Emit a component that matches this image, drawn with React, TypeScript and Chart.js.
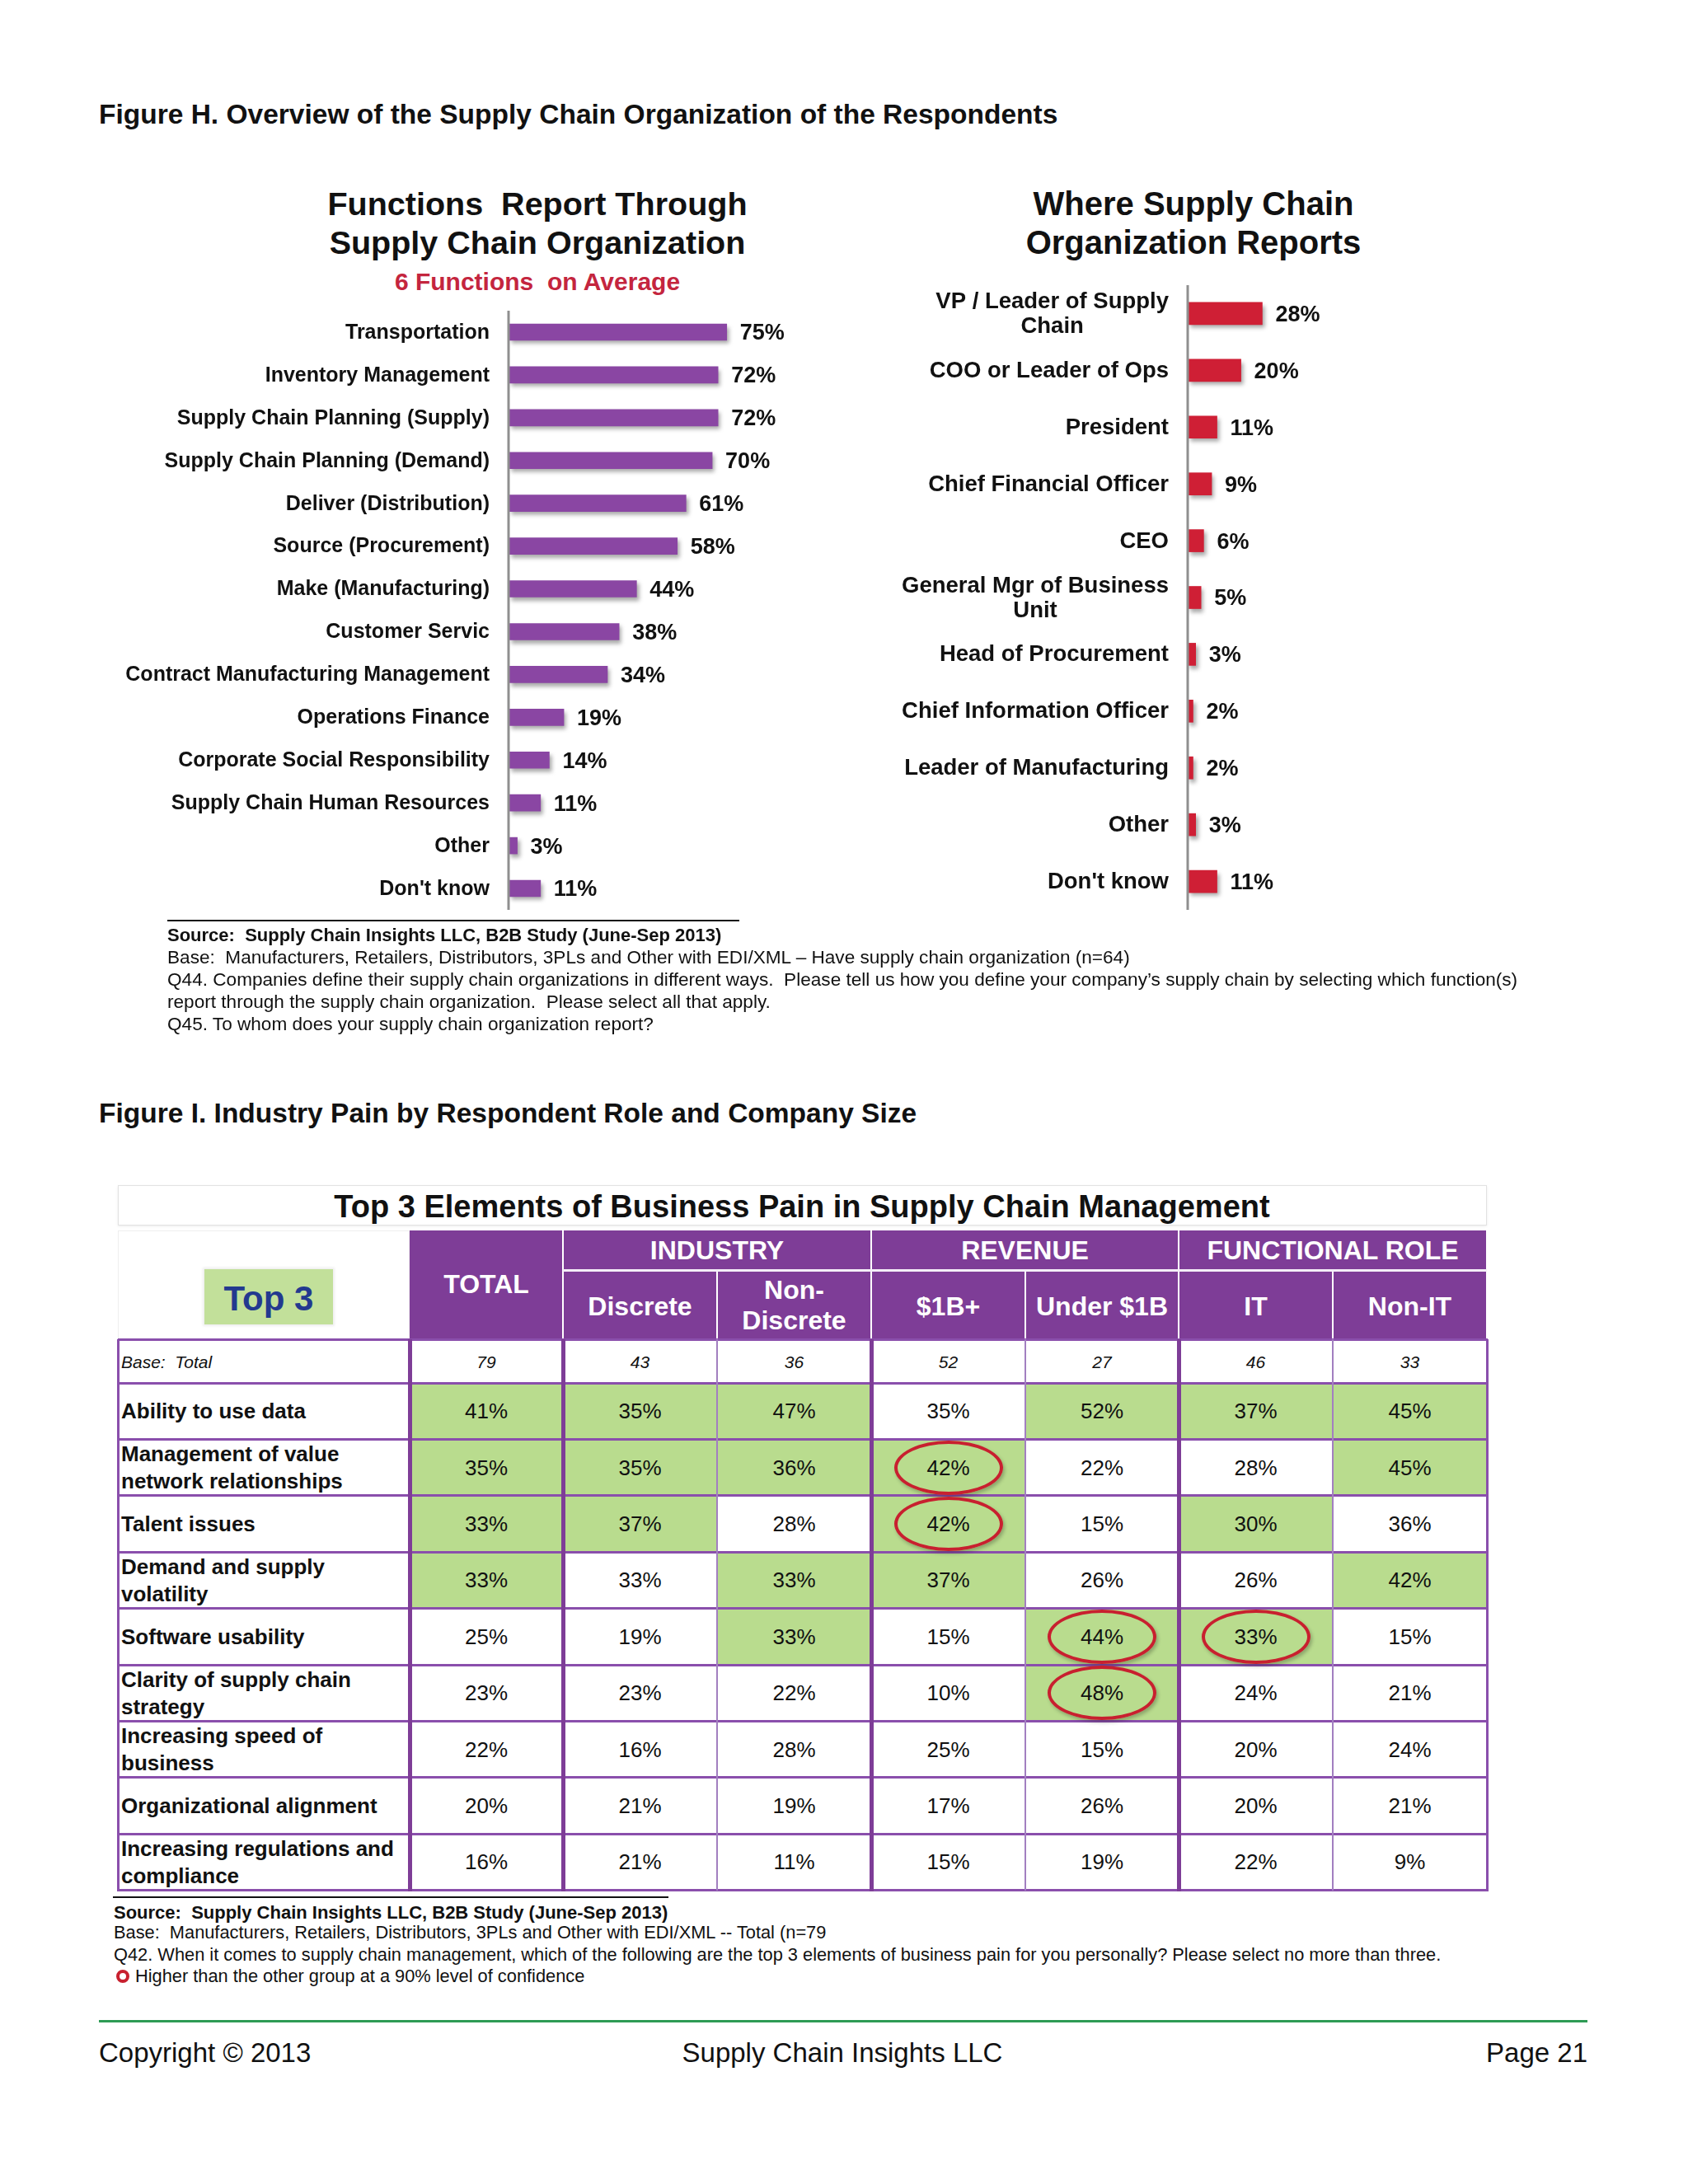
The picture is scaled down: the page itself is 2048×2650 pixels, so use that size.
import React, { useEffect, useRef } from "react";
import { Chart, registerables } from "chart.js";
Chart.register(...registerables);

const FONT = '"Liberation Sans", Arial, Helvetica, sans-serif';

// ---------- Figure H data ----------
const functionLabels = [
  "Transportation",
  "Inventory Management",
  "Supply Chain Planning (Supply)",
  "Supply Chain Planning (Demand)",
  "Deliver (Distribution)",
  "Source (Procurement)",
  "Make (Manufacturing)",
  "Customer Servic",
  "Contract Manufacturing Management",
  "Operations Finance",
  "Corporate Social Responsibility",
  "Supply Chain Human Resources",
  "Other",
  "Don't know",
];
const functionValues = [75, 72, 72, 70, 61, 58, 44, 38, 34, 19, 14, 11, 3, 11];

const reportLabels: (string | string[])[] = [
  ["VP / Leader of Supply", "Chain"],
  "COO or Leader of Ops",
  "President",
  "Chief Financial Officer",
  "CEO",
  ["General Mgr of Business", "Unit"],
  "Head of Procurement",
  "Chief Information Officer",
  "Leader of Manufacturing",
  "Other",
  "Don't know",
];
const reportValues = [28, 20, 11, 9, 6, 5, 3, 2, 2, 3, 11];

// ---------- Figure I data ----------
const groupHeaders = ["INDUSTRY", "REVENUE", "FUNCTIONAL ROLE"];
const columnHeaders: string[][] = [["Discrete"], ["Non-", "Discrete"], ["$1B+"], ["Under $1B"], ["IT"], ["Non-IT"]];
const baseCounts = [79, 43, 36, 52, 27, 46, 33];
const painLabels: string[][] = [
  ["Ability to use data"],
  ["Management of value", "network relationships"],
  ["Talent issues"],
  ["Demand and supply", "volatility"],
  ["Software usability"],
  ["Clarity of supply chain", "strategy"],
  ["Increasing speed of", "business"],
  ["Organizational alignment"],
  ["Increasing regulations and", "compliance"],
];
const abilityToUseData = [41, 35, 47, 35, 52, 37, 45];
const valueNetwork = [35, 35, 36, 42, 22, 28, 45];
const talentIssues = [33, 37, 28, 42, 15, 30, 36];
const demandSupplyVolatility = [33, 33, 33, 37, 26, 26, 42];
const softwareUsability = [25, 19, 33, 15, 44, 33, 15];
const clarityOfStrategy = [23, 23, 22, 10, 48, 24, 21];
const speedOfBusiness = [22, 16, 28, 25, 15, 20, 24];
const organizationalAlignment = [20, 21, 19, 17, 26, 20, 21];
const regulationsCompliance = [16, 21, 11, 15, 19, 22, 9];
const painValues = [
  abilityToUseData,
  valueNetwork,
  talentIssues,
  demandSupplyVolatility,
  softwareUsability,
  clarityOfStrategy,
  speedOfBusiness,
  organizationalAlignment,
  regulationsCompliance,
];
// top-3 highlighted cells [row, column]
const top3Cells: [number, number][] = [
  [0, 0], [0, 1], [0, 2], [0, 4], [0, 5], [0, 6],
  [1, 0], [1, 1], [1, 2], [1, 3], [1, 6],
  [2, 0], [2, 1], [2, 3], [2, 5],
  [3, 0], [3, 2], [3, 3], [3, 6],
  [4, 2], [4, 4], [4, 5],
  [5, 4],
];
// significantly higher cells [row, column]
const significantCells: [number, number][] = [[1, 3], [2, 3], [4, 4], [4, 5], [5, 4]];

// ---------- helpers ----------
type TProps = {
  x: number;
  y: number;
  size: number;
  bold?: boolean;
  italic?: boolean;
  align?: "left" | "center" | "right";
  color?: string;
  children: React.ReactNode;
  spacing?: number;
};
function T({ x, y, size, bold, italic, align = "left", color = "#111", children, spacing }: TProps) {
  const lh = Math.round(size * 1.3);
  const style: React.CSSProperties = {
    position: "absolute",
    top: y - lh / 2,
    height: lh,
    lineHeight: lh + "px",
    fontSize: size,
    fontWeight: bold ? 700 : 400,
    fontStyle: italic ? "italic" : "normal",
    color,
    whiteSpace: "nowrap",
    letterSpacing: spacing ? spacing + "px" : undefined,
  };
  if (align === "left") {
    style.left = x;
  } else if (align === "center") {
    style.left = x - 1000;
    style.width = 2000;
    style.textAlign = "center";
  } else {
    style.left = x - 2000;
    style.width = 2000;
    style.textAlign = "right";
  }
  return <div style={style}>{children}</div>;
}

type BarProps = {
  labels: (string | string[])[];
  values: number[];
  color: string;
  left: number;
  top: number;
  width: number;
  height: number;
  pad: { left: number; right: number; top: number; bottom: number };
  barThickness: number;
  labelFont: string;
  valueFont: string;
  lineHeight: number;
};

function HBar(p: BarProps) {
  const ref = useRef<HTMLCanvasElement>(null);
  useEffect(() => {
    if (!ref.current) return;
    const shadowPlugin = {
      id: "barShadow",
      beforeDatasetsDraw(chart: any) {
        const ctx = chart.ctx;
        ctx.save();
        ctx.shadowColor = "rgba(0,0,0,0.35)";
        ctx.shadowBlur = 5;
        ctx.shadowOffsetX = 3;
        ctx.shadowOffsetY = 4;
      },
      afterDatasetsDraw(chart: any) {
        chart.ctx.restore();
      },
    };
    const labelPlugin = {
      id: "barLabels",
      afterDraw(chart: any) {
        const ctx = chart.ctx;
        const area = chart.chartArea;
        const ys = chart.scales.y;
        const xs = chart.scales.x;
        ctx.save();
        ctx.strokeStyle = "#8f8f8f";
        ctx.lineWidth = 3;
        ctx.beginPath();
        ctx.moveTo(area.left, area.top);
        ctx.lineTo(area.left, area.bottom);
        ctx.stroke();
        ctx.fillStyle = "#111";
        ctx.textBaseline = "middle";
        p.labels.forEach((lab, i) => {
          const y = ys.getPixelForValue(i);
          const lines = Array.isArray(lab) ? lab : [lab];
          ctx.font = p.labelFont;
          const maxW = Math.max(...lines.map((l) => ctx.measureText(l).width));
          const rightX = area.left - 23;
          ctx.textAlign = "center";
          lines.forEach((l, j) => {
            const yy = y + (j - (lines.length - 1) / 2) * p.lineHeight;
            ctx.fillText(l, rightX - maxW / 2, yy + 1);
          });
          const xv = xs.getPixelForValue(p.values[i]);
          ctx.font = p.valueFont;
          ctx.textAlign = "left";
          ctx.fillText(p.values[i] + "%", xv + 16, y + 2);
        });
        ctx.restore();
      },
    };
    const chart = new Chart(ref.current, {
      type: "bar",
      data: {
        labels: p.labels.map((l) => (Array.isArray(l) ? l.join(" ") : l)),
        datasets: [
          {
            data: p.values,
            backgroundColor: p.color,
            borderWidth: 0,
            barThickness: p.barThickness,
          },
        ],
      },
      options: {
        indexAxis: "y",
        animation: false,
        responsive: false,
        maintainAspectRatio: false,
        devicePixelRatio: 1,
        layout: { padding: p.pad },
        plugins: {
          legend: { display: false },
          tooltip: { enabled: false },
          title: { display: false },
        },
        scales: {
          x: { display: false, min: 0, max: 100 },
          y: { display: false },
        },
      },
      plugins: [shadowPlugin, labelPlugin],
    } as any);
    return () => chart.destroy();
  }, []);
  return (
    <canvas
      ref={ref}
      width={p.width}
      height={p.height}
      style={{ position: "absolute", left: p.left, top: p.top, width: p.width, height: p.height }}
    />
  );
}

// ---------- table geometry ----------
const colEdges = [143, 497, 683, 870, 1057, 1244, 1430, 1617, 1804];
const bodyTop = 1678;
const rowH = 68.4;
const HEADER_PURPLE = "#7e3d97";
const LINE_PURPLE = "#8a4fac";
const GREEN = "#b9dc8e";
const RED = "#c8202f";

function PainTable() {
  const els: React.ReactNode[] = [];
  const isTop = (r: number, c: number) => top3Cells.some(([a, b]) => a === r && b === c);
  const isSig = (r: number, c: number) => significantCells.some(([a, b]) => a === r && b === c);

  // title box
  els.push(
    <div
      key="titlebox"
      style={{
        position: "absolute",
        left: 143,
        top: 1438,
        width: 1661,
        height: 49,
        border: "1px solid #e2e2e2",
        boxSizing: "border-box",
        background: "#fff",
        boxShadow: "0 1px 3px rgba(0,0,0,0.08)",
      }}
    />
  );
  els.push(
    <T key="title" x={973} y={1464} size={38} bold align="center">
      Top 3 Elements of Business Pain in Supply Chain Management
    </T>
  );
  // header cells
  els.push(
    <div key="tlc" style={{ position: "absolute", left: 143, top: 1493, width: 354, height: 132, border: "1px solid #eee", boxSizing: "border-box" }} />
  );
  els.push(
    <div
      key="top3box"
      style={{
        position: "absolute",
        left: 248,
        top: 1540,
        width: 156,
        height: 67,
        background: "#c2e09a",
        boxShadow: "0 0 3px 2px #eee",
      }}
    />
  );
  els.push(
    <T key="top3" x={326} y={1575} size={42} bold align="center" color="#23398f">
      Top 3
    </T>
  );
  els.push(
    <div key="hTotal" style={{ position: "absolute", left: 497, top: 1493, width: 185, height: 132, background: HEADER_PURPLE }} />
  );
  els.push(
    <T key="tTotal" x={590} y={1558} size={32} bold align="center" color="#fff">
      TOTAL
    </T>
  );
  groupHeaders.forEach((g, gi) => {
    const x0 = colEdges[2 + gi * 2];
    const x1 = colEdges[4 + gi * 2];
    els.push(
      <div
        key={"g" + gi}
        style={{ position: "absolute", left: x0 + 1, top: 1493, width: x1 - x0 - 2, height: 47, background: HEADER_PURPLE }}
      />
    );
    els.push(
      <T key={"gt" + gi} x={(x0 + x1) / 2} y={1517} size={32} bold align="center" color="#fff">
        {g}
      </T>
    );
  });
  columnHeaders.forEach((h, ci) => {
    const x0 = colEdges[2 + ci];
    const x1 = colEdges[3 + ci];
    els.push(
      <div
        key={"sh" + ci}
        style={{ position: "absolute", left: x0 + 1, top: 1543, width: x1 - x0 - 2, height: 82, background: HEADER_PURPLE }}
      />
    );
    h.forEach((line, li) => {
      const y = h.length === 1 ? 1585 : 1565 + li * 37;
      els.push(
        <T key={"sht" + ci + "_" + li} x={(x0 + x1) / 2} y={y} size={32} bold align="center" color="#fff">
          {line}
        </T>
      );
    });
  });

  // base row
  els.push(
    <T key="baseL" x={147} y={1652} size={21} italic>
      Base:&nbsp; Total
    </T>
  );
  baseCounts.forEach((v, ci) => {
    els.push(
      <T key={"base" + ci} x={(colEdges[1 + ci] + colEdges[2 + ci]) / 2} y={1652} size={21} italic align="center">
        {v}
      </T>
    );
  });

  // body rows
  painValues.forEach((row, ri) => {
    const y0 = bodyTop + ri * rowH;
    row.forEach((v, ci) => {
      const x0 = colEdges[1 + ci];
      const x1 = colEdges[2 + ci];
      if (isTop(ri, ci)) {
        els.push(
          <div key={"bg" + ri + "_" + ci} style={{ position: "absolute", left: x0, top: y0, width: x1 - x0, height: rowH, background: GREEN }} />
        );
      }
    });
  });
  // grid lines
  const hLines = [1625, 1678];
  for (let i = 1; i <= painValues.length; i++) hLines.push(bodyTop + i * rowH);
  hLines.forEach((y, i) => {
    els.push(
      <div key={"hl" + i} style={{ position: "absolute", left: 143, top: y - 1.5, width: 1662, height: 3, background: LINE_PURPLE }} />
    );
  });
  const thick = [497, 683, 1057, 1430];
  const thin = [870, 1244, 1617];
  thick.forEach((x, i) => {
    els.push(
      <div key={"tv" + i} style={{ position: "absolute", left: x - 2.5, top: 1625, width: 5, height: 2294 - 1625 + 1, background: HEADER_PURPLE }} />
    );
  });
  thin.forEach((x, i) => {
    els.push(
      <div key={"nv" + i} style={{ position: "absolute", left: x - 1, top: 1625, width: 2, height: 2294 - 1625, background: "#a27fc0" }} />
    );
  });
  [143, 1804].forEach((x, i) => {
    els.push(
      <div key={"ov" + i} style={{ position: "absolute", left: x - 1.5, top: 1625, width: 3, height: 2294 - 1625 + 1, background: LINE_PURPLE }} />
    );
  });
  // header white separators
  els.push(<div key="hs1" style={{ position: "absolute", left: 683, top: 1540, width: 1121, height: 3, background: "#f4eef8" }} />);

  // texts
  painValues.forEach((row, ri) => {
    const y0 = bodyTop + ri * rowH;
    const cy = y0 + rowH / 2;
    const lab = painLabels[ri];
    lab.forEach((l, li) => {
      const ly = lab.length === 1 ? cy : cy - 16.5 + li * 33;
      els.push(
        <T key={"rl" + ri + "_" + li} x={147} y={ly} size={26} bold>
          {l}
        </T>
      );
    });
    row.forEach((v, ci) => {
      const cx = (colEdges[1 + ci] + colEdges[2 + ci]) / 2;
      els.push(
        <T key={"v" + ri + "_" + ci} x={cx} y={cy} size={26} align="center">
          {v}%
        </T>
      );
      if (isSig(ri, ci)) {
        els.push(
          <div
            key={"c" + ri + "_" + ci}
            style={{
              position: "absolute",
              left: cx - 66,
              top: cy - 33,
              width: 132,
              height: 66,
              border: "4px solid " + RED,
              borderRadius: "50%",
              boxSizing: "border-box",
              boxShadow: "2px 3px 4px rgba(0,0,0,0.25)",
            }}
          />
        );
      }
    });
  });
  return <>{els}</>;
}

export default function App() {
  return (
    <div
      style={{
        position: "absolute",
        left: 0,
        top: 0,
        width: 2048,
        height: 2650,
        background: "#fff",
        fontFamily: FONT,
        color: "#111",
        overflow: "hidden",
      }}
    >
      <T x={120} y={139} size={33.5} bold>
        Figure H. Overview of the Supply Chain Organization of the Respondents
      </T>

      {/* left chart titles */}
      <T x={652} y={247} size={39.5} bold align="center">
        Functions&nbsp; Report Through
      </T>
      <T x={652} y={294} size={39.5} bold align="center">
        Supply Chain Organization
      </T>
      <T x={652} y={341} size={30} bold align="center" color="#c4253e">
        6 Functions&nbsp; on Average
      </T>

      {/* right chart titles */}
      <T x={1448} y={247} size={40} bold align="center">
        Where Supply Chain
      </T>
      <T x={1448} y={294} size={40} bold align="center">
        Organization Reports
      </T>

      <HBar
        labels={functionLabels}
        values={functionValues}
        color="#8a46a3"
        left={0}
        top={360}
        width={1040}
        height={760}
        pad={{ left: 617, right: 70, top: 17, bottom: 16 }}
        barThickness={20}
        labelFont={"bold 25px " + FONT}
        valueFont={"bold 27px " + FONT}
        lineHeight={30}
      />
      <HBar
        labels={reportLabels}
        values={reportValues}
        color="#cf1f35"
        left={1040}
        top={330}
        width={1000}
        height={790}
        pad={{ left: 401, right: 276, top: 16, bottom: 16 }}
        barThickness={27}
        labelFont={"bold 27.5px " + FONT}
        valueFont={"bold 27px " + FONT}
        lineHeight={30}
      />

      {/* source block 1 */}
      <div style={{ position: "absolute", left: 203, top: 1116, width: 694, height: 2, background: "#111" }} />
      <T x={203} y={1134} size={22} bold>
        Source:&nbsp; Supply Chain Insights LLC, B2B Study (June-Sep 2013)
      </T>
      <T x={203} y={1161} size={22.6}>
        Base:&nbsp; Manufacturers, Retailers, Distributors, 3PLs and Other with EDI/XML – Have supply chain organization (n=64)
      </T>
      <T x={203} y={1188} size={22.6}>
        Q44. Companies define their supply chain organizations in different ways.&nbsp; Please tell us how you define your company’s supply chain by selecting which function(s)
      </T>
      <T x={203} y={1215} size={22.6}>
        report through the supply chain organization.&nbsp; Please select all that apply.
      </T>
      <T x={203} y={1242} size={22.6}>
        Q45. To whom does your supply chain organization report?
      </T>

      <T x={120} y={1351} size={33.5} bold>
        Figure I. Industry Pain by Respondent Role and Company Size
      </T>

      <PainTable />

      {/* source block 2 */}
      <div style={{ position: "absolute", left: 137, top: 2301, width: 674, height: 2, background: "#111" }} />
      <T x={138} y={2320} size={22} bold>
        Source:&nbsp; Supply Chain Insights LLC, B2B Study (June-Sep 2013)
      </T>
      <T x={138} y={2345} size={21.8}>
        Base:&nbsp; Manufacturers, Retailers, Distributors, 3PLs and Other with EDI/XML -- Total (n=79
      </T>
      <T x={138} y={2372} size={21.8}>
        Q42. When it comes to supply chain management, which of the following are the top 3 elements of business pain for you personally? Please select no more than three.
      </T>
      <div
        style={{
          position: "absolute",
          left: 141,
          top: 2390,
          width: 16,
          height: 16,
          borderRadius: "50%",
          border: "4.5px solid " + RED,
          boxSizing: "border-box",
        }}
      />
      <T x={164} y={2398} size={21.8}>
        Higher than the other group at a 90% level of confidence
      </T>

      {/* footer */}
      <div style={{ position: "absolute", left: 120, top: 2451, width: 1806, height: 3, background: "#2e9b55" }} />
      <T x={120} y={2490} size={33}>
        Copyright © 2013
      </T>
      <T x={1022} y={2490} size={33} align="center">
        Supply Chain Insights LLC
      </T>
      <T x={1926} y={2490} size={33} align="right">
        Page 21
      </T>
    </div>
  );
}
